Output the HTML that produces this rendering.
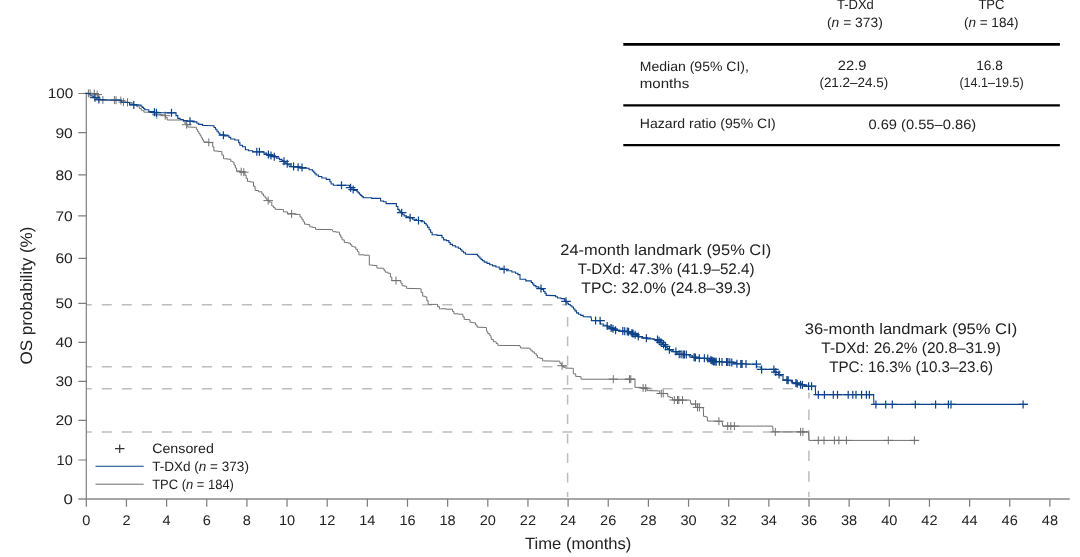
<!DOCTYPE html>
<html><head><meta charset="utf-8"><title>OS Kaplan-Meier</title>
<style>html,body{margin:0;padding:0;background:#fff;}body{width:1080px;height:557px;overflow:hidden;}svg{display:block;will-change:transform;}text{text-rendering:geometricPrecision;font-family:"Liberation Sans",sans-serif;fill:#222222;}</style>
</head><body>
<svg width="1080" height="557" viewBox="0 0 1080 557">
<rect width="1080" height="557" fill="#ffffff"/>
<defs><clipPath id="plotclip"><rect x="86.3" y="0" width="1000" height="498.9"/></clipPath></defs>
<line x1="81.75" y1="304.8" x2="567.6" y2="304.8" stroke="#bdbdbd" stroke-width="1.5" stroke-dasharray="10.0 10.03" clip-path="url(#plotclip)"/>
<line x1="81.75" y1="366.8" x2="567.6" y2="366.8" stroke="#bdbdbd" stroke-width="1.5" stroke-dasharray="10.0 10.03" clip-path="url(#plotclip)"/>
<line x1="81.75" y1="388.8" x2="794.5" y2="388.8" stroke="#bdbdbd" stroke-width="1.5" stroke-dasharray="10.0 10.03" clip-path="url(#plotclip)"/>
<line x1="81.75" y1="432.0" x2="808.9" y2="432.0" stroke="#bdbdbd" stroke-width="1.5" stroke-dasharray="10.0 10.03" clip-path="url(#plotclip)"/>
<path d="M567.6 316.9V326.6M567.6 336.4V346.1M567.6 355.8V365.5M567.6 375.3V385.0M567.6 394.8V404.5M567.6 414.2V423.9M567.6 433.7V443.4M567.6 453.2V462.9M567.6 472.7V482.4M567.6 492.1V496.9" stroke="#bdbdbd" stroke-width="1.5" fill="none"/>
<path d="M808.9 392.5V398.7" stroke="#bdbdbd" stroke-width="1.5" fill="none"/>
<path d="M808.9 409.4V419.9M808.9 430.0V440.5M808.9 450.6V461.1M808.9 471.3V481.8M808.9 491.8V496.9" stroke="#bdbdbd" stroke-width="1.5" fill="none"/>
<g stroke="#7d7d7d" stroke-width="1.2" fill="none">
<path d="M86.3 93V498.9"/>
<path d="M78.3 498.9H1069.7" stroke-width="1.45" stroke="#888"/>
<path d="M78.3 93.5H86.3M78.3 132.6H86.3M78.3 174.8H86.3M78.3 215.8H86.3M78.3 258.4H86.3M78.3 303.4H86.3M78.3 342.3H86.3M78.3 381.3H86.3M78.3 420.4H86.3M78.3 460.0H86.3"/>
<path d="M86.30 498.9V506.7M126.45 498.9V506.7M166.60 498.9V506.7M206.75 498.9V506.7M246.90 498.9V506.7M287.05 498.9V506.7M327.20 498.9V506.7M367.35 498.9V506.7M407.50 498.9V506.7M447.65 498.9V506.7M487.80 498.9V506.7M527.95 498.9V506.7M568.10 498.9V506.7M608.25 498.9V506.7M648.40 498.9V506.7M688.55 498.9V506.7M728.70 498.9V506.7M768.85 498.9V506.7M809.00 498.9V506.7M849.15 498.9V506.7M889.30 498.9V506.7M929.45 498.9V506.7M969.60 498.9V506.7M1009.75 498.9V506.7M1049.90 498.9V506.7"/>
</g>
<path d="M86.3 93.4L94.6 93.5H95.9V94.6H97.2H98.1V97.2H99.0H100.0V99.6H101.0H101.7V100.0H102.3L120.2 100.2H121.8V102.2H123.5L127.4 102.4H129.7V103.2H131.9H133.4V104.5H135.0H136.7V106.7H138.4H139.4V108.5H141.3V110.3H142.3H143.9V112.2H145.5L152.4 112.3H154.6V114.8H156.8L164.6 114.8H165.4V117.4H167.2V120.0H168.0L183.0 120.0H183.7V122.0H185.1V124.0H185.8H187.8V127.1H189.7L195.8 127.3H196.4V129.4H197.6V131.5H198.8V133.6H200.1V135.7H201.3V137.8H202.5V139.9H203.7V142.0H204.3H208.2V142.6H212.0H212.7V146.8H213.9V151.0H214.6H217.8V151.4H221.1H221.9V155.1H223.6V158.8H224.4H227.3V159.2H230.2H230.8V161.4H231.5H232.4V162.0H233.4H234.0V165.0H235.3V168.0H236.6V171.0H237.2H240.8V172.3H244.3H244.9V175.3H246.2V178.4H247.5V181.4H248.1H250.4V182.0H252.7H253.5V186.2H255.1V190.5H255.9H258.5V191.8H261.1H261.9V193.9H263.5V196.0H265.2V198.1H266.8V200.2H267.6H269.2V202.1H270.8H271.8V206.0H272.8H273.6V207.7H275.2V209.3H276.0L282.5 209.5H283.4V211.9H284.4H287.6V213.8H290.9H294.8V214.4H298.7H300.0V217.0H301.3H301.9V219.4H303.2V221.8H304.6V224.2H305.2H307.1V224.6H309.1H309.8V226.8H310.4H312.6V227.4H314.9H315.5V229.4H316.2L332.3 229.6L333.0 231.7H335.9V232.1H338.8H339.4V234.7H340.8V237.3H342.1V239.9H342.7H344.3V242.5H345.9H347.9V243.1H349.8H350.4V244.8H351.8V246.4H352.4H353.7V247.0H355.0H355.8V249.3H357.4V251.6H358.2H358.9V254.8H359.5H363.9V255.2H368.2H369.3V265.1H370.4H373.3V265.5H376.2H376.9V268.1H377.5L383.3 268.3H383.9V270.2H385.2V272.2H385.9H387.9V273.3H389.8H390.4V277.0H391.8V280.6H392.4L400.2 280.6H400.9V283.2H402.1V285.8H402.8H404.4V286.2H406.0H406.6V288.4H407.3L420.3 288.7H421.1V292.4H422.7V296.2H423.5H424.8V296.9H426.1H426.8V300.6H428.1V304.4H428.7L436.5 304.4H437.5V306.6H439.4V308.8H440.4H446.2V309.2H452.0H452.6V311.5H453.9V313.8H454.5H458.4V314.2H462.3H462.9V316.8H464.2V319.4H464.9L469.4 319.7H470.0V322.3H470.7H472.6V322.7H474.6H475.4V324.9H477.1V327.2H477.9L486.3 327.5L486.9 331.8H487.9V333.7H489.8V335.6H490.8L491.5 339.5H493.4V341.7H495.4H496.2V343.5H497.8V345.4H498.6L520.0 345.6L520.6 348.0L529.3 348.2H530.2V350.0H532.1V351.9H533.0H534.3V353.4H535.6H536.2V355.5H537.5V357.7H538.1H540.0V358.3H542.0H542.6V360.9H543.3L559.2 361.2H559.9V363.4H561.4V365.7H562.1H563.5V367.2H565.0L565.4 368.1L572.3 368.3H573.3V373.8H574.4H575.7V376.4H577.0L580.3 376.6H581.0V379.2H581.6L634.1 379.2H635.0V387.4H636.0H640.9V388.1H645.7H647.0V390.6H648.3L658.7 390.9H659.7V393.5H660.7L667.1 393.6H667.8V396.7H668.4H670.0V397.5H671.7H672.4V400.0H673.0L690.2 400.1L691.0 404.1L695.6 404.1L695.8 407.3H699.5V407.7H703.3L703.6 416.4H705.4V416.8H707.2L707.5 421.0L722.1 421.3L722.8 426.1L772.7 426.1L773.1 431.9L808.6 431.9L809.0 440.4L919.0 440.4" fill="none" stroke="#707070" stroke-width="1.0" stroke-linejoin="miter"/>
<path d="M83.6 93.4h9.6M88.4 89.4v8.0M85.3 93.4h9.6M90.1 89.4v8.0M89.5 93.5h9.6M94.3 89.5v8.0M92.4 94.6h9.6M97.2 90.6v8.0M98.1 100.0h9.6M102.9 96.0v8.0M109.6 100.1h9.6M114.4 96.1v8.0M111.2 100.2h9.6M116.0 96.2v8.0M116.0 100.6h9.6M120.8 96.6v8.0M118.6 102.1h9.6M123.4 98.1v8.0M122.7 102.4h9.6M127.5 98.4v8.0M152.0 114.8h9.6M156.8 110.8v8.0M160.4 115.7h9.6M165.2 111.7v8.0M181.9 124.7h9.6M186.7 120.7v8.0M204.0 142.4h9.6M208.8 138.4v8.0M236.4 171.7h9.6M241.2 167.7v8.0M239.0 172.2h9.6M243.8 168.2v8.0M263.4 200.6h9.6M268.2 196.6v8.0M286.8 213.9h9.6M291.6 209.9v8.0M391.2 280.6h9.6M396.0 276.6v8.0M557.3 365.7h9.6M562.1 361.7v8.0M608.5 379.2h9.6M613.3 375.2v8.0M624.7 379.2h9.6M629.5 375.2v8.0M626.0 379.2h9.6M630.8 375.2v8.0M638.3 387.9h9.6M643.1 383.9v8.0M640.9 388.1h9.6M645.7 384.1v8.0M656.5 393.5h9.6M661.3 389.5v8.0M658.4 393.5h9.6M663.2 389.5v8.0M669.5 400.0h9.6M674.3 396.0v8.0M672.7 400.0h9.6M677.5 396.0v8.0M674.0 400.0h9.6M678.8 396.0v8.0M677.7 400.1h9.6M682.5 396.1v8.0M690.8 404.1h9.6M695.6 400.1v8.0M692.7 407.4h9.6M697.5 403.4v8.0M694.6 407.5h9.6M699.4 403.5v8.0M714.1 421.2h9.6M718.9 417.2v8.0M722.9 426.1h9.6M727.7 422.1v8.0M726.0 426.1h9.6M730.8 422.1v8.0M729.6 426.1h9.6M734.4 422.1v8.0M770.5 431.9h9.6M775.3 427.9v8.0M795.8 431.9h9.6M800.6 427.9v8.0M798.1 431.9h9.6M802.9 427.9v8.0M813.5 440.4h9.6M818.3 436.4v8.0M819.2 440.4h9.6M824.0 436.4v8.0M829.6 440.4h9.6M834.4 436.4v8.0M834.1 440.4h9.6M838.9 436.4v8.0M841.6 440.4h9.6M846.4 436.4v8.0M883.5 440.4h9.6M888.3 436.4v8.0M909.6 440.4h9.6M914.4 436.4v8.0" fill="none" stroke="#707070" stroke-width="1.0"/>
<path d="M85.2 93.4L89.1 93.6H90.1V95.0H92.0V96.3H94.0V97.7H95.0H97.0V99.6H98.9L106.6 99.9L120.2 100.1H121.2V102.2H122.2L128.7 102.5H129.5V104.8H130.3L140.3 105.1H141.0V106.2H142.2V107.4H143.6V108.5H144.8V109.7H145.5H148.8V111.6H152.0H154.0V112.7H156.0L175.2 112.8H176.0V115.6H177.8V118.4H178.6H180.1V119.5H183.2V120.6H184.7H187.3V121.2H190.0H192.9V121.9H195.8H196.8V123.2H198.7V124.4H199.7H202.6V125.5H205.6L213.3 125.7H214.0V127.5H215.5V129.3H216.9V131.2H218.3V133.0H219.8V134.8H220.5H224.3V135.9H228.2H229.0V137.4H230.7V139.0H231.5H234.8V140.0H238.0H238.7V142.6H239.9V145.2H240.6H242.5V146.7H244.4H245.4V149.7H246.4H248.5V150.7H252.7V151.7H254.8L262.6 151.9H263.9V153.1H266.5V154.3H267.8H269.5V155.6H273.0V156.8H276.4V158.1H278.1H279.4V159.4H282.0V160.7H283.3H284.2V162.1H285.9V163.5H287.6V164.9H288.5H291.1V166.6H293.7H300.1V168.2H306.5H309.1V169.7H311.8H312.4V171.0H313.7V172.3H314.9V173.7H316.2V175.0H316.8H318.4V176.5H321.8V178.0H323.4H326.3V179.4H329.2H329.9V181.7H331.1V184.0H331.8H333.4V185.3H335.0L348.6 185.3H349.4V187.2H351.1V189.2H351.9H354.1V190.5H356.4H357.0V191.7H358.2V192.9H359.5V194.2H360.7V195.4H361.9V196.6H363.2V197.8H363.8H371.7V198.4H379.6H380.6V201.0H381.6H383.6V201.7H385.5H386.1V203.6H386.8L395.8 203.6H396.4V206.5H397.8V209.4H398.4H399.2V211.1H400.9V212.7H401.7H402.5V214.3H404.1V215.9H404.9H406.3V216.9H409.2V217.9H410.7H412.6V219.2H416.6V220.5H418.5H421.1V221.8H423.7H424.5V223.4H426.1V225.0H426.9H427.6V227.4H429.1V229.8H430.6V232.3H432.1V234.7H432.8H437.0V235.4H441.2H442.0V237.7H443.6V239.9H444.4H446.4V240.6H448.3H448.9V242.5H450.2V244.4H450.9H452.4V245.7H455.4V247.0H458.3V248.3H459.8H460.5V249.8H461.9V251.3H462.6H463.6V252.8H465.5V254.2H466.5L476.8 254.4H477.4V255.7H478.7V257.0H479.9V258.2H481.1V259.5H482.4V260.8H483.0H484.3V262.1H487.0V263.4H489.7V264.7H491.0H492.6V265.9H495.9V267.0H499.2V268.2H502.5V269.4H504.1H506.7V270.7H511.8V272.0H514.4H515.5V273.3H517.9V274.6H519.0H520.0V279.2H520.9H525.8V280.9H530.7H531.3V282.5H532.6V284.0H533.9V285.6H534.5H535.9V286.9H538.8V288.2H541.6V289.5H543.0H543.6V291.5H545.0V293.4H546.2V295.4H546.9L554.6 295.6H555.6V296.8H557.5V298.0H558.5H561.1V298.6H563.7H564.4V300.1H565.7V301.7H567.0V303.2H567.6H568.5V304.5H570.2V305.7H571.9V307.0H572.8H573.5V309.0H575.0V310.9H576.5V312.9H577.3H578.5V314.2H580.8V315.4H583.2V316.7H584.4L591.0 316.9L591.7 320.5L600.1 320.7L600.7 324.0H603.3V325.3H605.9H607.2V326.6H609.8V327.9H611.1H612.4V329.2H615.0V330.5H616.3H619.5V331.1H622.8H626.0V331.8H629.3H630.6V333.1H633.1V334.4H634.4H635.5V335.6H637.9V336.9H639.0H641.9V337.9H644.8H647.7V338.9H650.6H654.2V339.5H657.8H658.4V340.6H659.8V341.8H661.0V343.0H662.4V344.1H663.0H663.9V345.6H665.6V347.1H667.3V348.6H668.2H668.8V349.7H670.1V350.8H670.7H673.3V351.6H675.9H676.5V352.9H677.9V354.2H678.5H683.0V354.7H687.6H689.2V355.9H692.5V357.2H694.1H696.5V358.2H699.0L708.5 358.4H709.8V360.0H712.2V361.6H713.5H722.3V362.2H731.1H733.7V363.8H736.3H746.3V364.2H756.4L757.0 366.8L760.9 367.0L761.2 369.4L773.9 369.4L774.5 371.9H776.5V372.6H778.4H778.8V375.2H779.3H780.8V375.8H782.3H783.0V379.7H783.6H787.2V380.6H790.7H791.4V381.6H792.6V382.7H793.3L796.6 383.0H797.2V384.5H797.9H800.1V384.9H802.4L803.1 386.2L815.3 386.2L815.6 394.7L873.6 394.7L873.9 404.4L1027.6 404.4" fill="none" stroke="#0d428a" stroke-width="1.1" stroke-linejoin="miter"/>
<path d="M90.2 97.7h9.6M95.0 93.7v8.0M94.1 99.6h9.6M98.9 95.6v8.0M129.0 104.9h9.6M133.8 100.9v8.0M149.6 112.3h9.6M154.4 108.3v8.0M151.6 112.7h9.6M156.4 108.7v8.0M166.7 112.8h9.6M171.5 108.8v8.0M185.2 121.2h9.6M190.0 117.2v8.0M218.6 135.2h9.6M223.4 131.2v8.0M252.0 151.8h9.6M256.8 147.8v8.0M254.6 151.8h9.6M259.4 147.8v8.0M263.6 154.5h9.6M268.4 150.5v8.0M266.2 155.5h9.6M271.0 151.5v8.0M269.5 156.7h9.6M274.3 152.7v8.0M279.2 161.3h9.6M284.0 157.3v8.0M282.4 163.8h9.6M287.2 159.8v8.0M288.8 166.6h9.6M293.6 162.6v8.0M293.3 167.2h9.6M298.1 163.2v8.0M297.2 167.6h9.6M302.0 163.6v8.0M336.7 185.3h9.6M341.5 181.3v8.0M345.8 187.7h9.6M350.6 183.7v8.0M348.4 189.6h9.6M353.2 185.6v8.0M396.9 212.7h9.6M401.7 208.7v8.0M405.3 217.7h9.6M410.1 213.7v8.0M413.7 220.5h9.6M418.5 216.5v8.0M499.3 269.4h9.6M504.1 265.4v8.0M536.2 288.6h9.6M541.0 284.6v8.0M561.2 301.3h9.6M566.0 297.3v8.0M590.8 320.6h9.6M595.6 316.6v8.0M595.3 320.7h9.6M600.1 316.7v8.0M602.4 326.0h9.6M607.2 322.0v8.0M606.3 327.9h9.6M611.1 323.9v8.0M608.2 328.8h9.6M613.0 324.8v8.0M610.8 330.2h9.6M615.6 326.2v8.0M618.0 331.1h9.6M622.8 327.1v8.0M619.9 331.3h9.6M624.7 327.3v8.0M622.5 331.6h9.6M627.3 327.6v8.0M623.8 331.7h9.6M628.6 327.7v8.0M627.1 333.1h9.6M631.9 329.1v8.0M628.3 333.7h9.6M633.1 329.7v8.0M630.3 334.8h9.6M635.1 330.8v8.0M633.5 336.5h9.6M638.3 332.5v8.0M641.6 338.2h9.6M646.4 334.2v8.0M652.7 339.5h9.6M657.5 335.5v8.0M654.3 340.7h9.6M659.1 336.7v8.0M656.2 342.3h9.6M661.0 338.3v8.0M658.8 344.6h9.6M663.6 340.6v8.0M660.8 346.4h9.6M665.6 342.4v8.0M664.6 349.7h9.6M669.4 345.7v8.0M671.1 351.6h9.6M675.9 347.6v8.0M674.4 354.2h9.6M679.2 350.2v8.0M676.3 354.3h9.6M681.1 350.3v8.0M678.3 354.5h9.6M683.1 350.5v8.0M679.6 354.5h9.6M684.4 350.5v8.0M681.5 354.6h9.6M686.3 350.6v8.0M689.3 357.2h9.6M694.1 353.2v8.0M690.6 357.5h9.6M695.4 353.5v8.0M694.5 358.2h9.6M699.3 354.2v8.0M699.6 358.3h9.6M704.4 354.3v8.0M702.9 358.4h9.6M707.7 354.4v8.0M706.1 359.9h9.6M710.9 355.9v8.0M707.4 360.8h9.6M712.2 356.8v8.0M708.7 361.6h9.6M713.5 357.6v8.0M710.0 361.6h9.6M714.8 357.6v8.0M711.4 361.7h9.6M716.2 357.7v8.0M714.6 361.8h9.6M719.4 357.8v8.0M717.2 361.9h9.6M722.0 357.9v8.0M721.8 362.0h9.6M726.6 358.0v8.0M723.1 362.1h9.6M727.9 358.1v8.0M725.0 362.2h9.6M729.8 358.2v8.0M727.0 362.4h9.6M731.8 358.4v8.0M732.1 363.8h9.6M736.9 359.8v8.0M736.0 363.9h9.6M740.8 359.9v8.0M737.3 363.9h9.6M742.1 359.9v8.0M741.2 364.0h9.6M746.0 360.0v8.0M751.6 364.2h9.6M756.4 360.2v8.0M756.8 369.4h9.6M761.6 365.4v8.0M769.1 369.4h9.6M773.9 365.4v8.0M771.0 372.1h9.6M775.8 368.1v8.0M774.3 374.6h9.6M779.1 370.6v8.0M782.1 380.1h9.6M786.9 376.1v8.0M783.4 380.3h9.6M788.2 376.3v8.0M791.1 382.9h9.6M795.9 378.9v8.0M792.4 383.7h9.6M797.2 379.7v8.0M795.7 384.7h9.6M800.5 380.7v8.0M797.6 384.9h9.6M802.4 380.9v8.0M803.8 386.2h9.6M808.6 382.2v8.0M806.8 386.2h9.6M811.6 382.2v8.0M813.5 394.7h9.6M818.3 390.7v8.0M819.6 394.7h9.6M824.4 390.7v8.0M828.5 394.7h9.6M833.3 390.7v8.0M832.7 394.7h9.6M837.5 390.7v8.0M843.4 394.7h9.6M848.2 390.7v8.0M848.0 394.7h9.6M852.8 390.7v8.0M851.2 394.7h9.6M856.0 390.7v8.0M856.8 394.7h9.6M861.6 390.7v8.0M861.6 394.7h9.6M866.4 390.7v8.0M864.6 394.7h9.6M869.4 390.7v8.0M871.1 404.4h9.6M875.9 400.4v8.0M880.9 404.4h9.6M885.7 400.4v8.0M887.5 404.4h9.6M892.3 400.4v8.0M910.5 404.4h9.6M915.3 400.4v8.0M930.8 404.4h9.6M935.6 400.4v8.0M943.6 404.4h9.6M948.4 400.4v8.0M946.2 404.4h9.6M951.0 400.4v8.0M1018.3 404.4h9.6M1023.1 400.4v8.0" fill="none" stroke="#0d428a" stroke-width="1.2"/>
<text x="47.8" y="98.4" font-size="14" text-anchor="start" textLength="25.6" lengthAdjust="spacingAndGlyphs">100</text>
<text x="55.4" y="137.5" font-size="14" text-anchor="start" textLength="17.4" lengthAdjust="spacingAndGlyphs">90</text>
<text x="55.4" y="179.7" font-size="14" text-anchor="start" textLength="17.4" lengthAdjust="spacingAndGlyphs">80</text>
<text x="55.4" y="220.7" font-size="14" text-anchor="start" textLength="17.4" lengthAdjust="spacingAndGlyphs">70</text>
<text x="55.4" y="263.3" font-size="14" text-anchor="start" textLength="17.4" lengthAdjust="spacingAndGlyphs">60</text>
<text x="55.4" y="308.3" font-size="14" text-anchor="start" textLength="17.4" lengthAdjust="spacingAndGlyphs">50</text>
<text x="55.4" y="347.2" font-size="14" text-anchor="start" textLength="17.4" lengthAdjust="spacingAndGlyphs">40</text>
<text x="55.4" y="386.2" font-size="14" text-anchor="start" textLength="17.4" lengthAdjust="spacingAndGlyphs">30</text>
<text x="55.4" y="425.3" font-size="14" text-anchor="start" textLength="17.4" lengthAdjust="spacingAndGlyphs">20</text>
<text x="56.6" y="464.9" font-size="14" text-anchor="start" textLength="16.2" lengthAdjust="spacingAndGlyphs">10</text>
<text x="63.4" y="503.8" font-size="14" text-anchor="start" textLength="9.4" lengthAdjust="spacingAndGlyphs">0</text>
<text x="82.2" y="525.0" font-size="14" text-anchor="start" textLength="8.1" lengthAdjust="spacingAndGlyphs">0</text>
<text x="122.4" y="525.0" font-size="14" text-anchor="start" textLength="8.1" lengthAdjust="spacingAndGlyphs">2</text>
<text x="162.5" y="525.0" font-size="14" text-anchor="start" textLength="8.1" lengthAdjust="spacingAndGlyphs">4</text>
<text x="202.7" y="525.0" font-size="14" text-anchor="start" textLength="8.1" lengthAdjust="spacingAndGlyphs">6</text>
<text x="242.8" y="525.0" font-size="14" text-anchor="start" textLength="8.1" lengthAdjust="spacingAndGlyphs">8</text>
<text x="278.9" y="525.0" font-size="14" text-anchor="start" textLength="16.2" lengthAdjust="spacingAndGlyphs">10</text>
<text x="319.1" y="525.0" font-size="14" text-anchor="start" textLength="16.2" lengthAdjust="spacingAndGlyphs">12</text>
<text x="359.2" y="525.0" font-size="14" text-anchor="start" textLength="16.2" lengthAdjust="spacingAndGlyphs">14</text>
<text x="399.4" y="525.0" font-size="14" text-anchor="start" textLength="16.2" lengthAdjust="spacingAndGlyphs">16</text>
<text x="439.5" y="525.0" font-size="14" text-anchor="start" textLength="16.2" lengthAdjust="spacingAndGlyphs">18</text>
<text x="479.7" y="525.0" font-size="14" text-anchor="start" textLength="16.2" lengthAdjust="spacingAndGlyphs">20</text>
<text x="519.8" y="525.0" font-size="14" text-anchor="start" textLength="16.2" lengthAdjust="spacingAndGlyphs">22</text>
<text x="560.0" y="525.0" font-size="14" text-anchor="start" textLength="16.2" lengthAdjust="spacingAndGlyphs">24</text>
<text x="600.1" y="525.0" font-size="14" text-anchor="start" textLength="16.2" lengthAdjust="spacingAndGlyphs">26</text>
<text x="640.3" y="525.0" font-size="14" text-anchor="start" textLength="16.2" lengthAdjust="spacingAndGlyphs">28</text>
<text x="680.4" y="525.0" font-size="14" text-anchor="start" textLength="16.2" lengthAdjust="spacingAndGlyphs">30</text>
<text x="720.6" y="525.0" font-size="14" text-anchor="start" textLength="16.2" lengthAdjust="spacingAndGlyphs">32</text>
<text x="760.7" y="525.0" font-size="14" text-anchor="start" textLength="16.2" lengthAdjust="spacingAndGlyphs">34</text>
<text x="800.9" y="525.0" font-size="14" text-anchor="start" textLength="16.2" lengthAdjust="spacingAndGlyphs">36</text>
<text x="841.0" y="525.0" font-size="14" text-anchor="start" textLength="16.2" lengthAdjust="spacingAndGlyphs">38</text>
<text x="881.2" y="525.0" font-size="14" text-anchor="start" textLength="16.2" lengthAdjust="spacingAndGlyphs">40</text>
<text x="921.3" y="525.0" font-size="14" text-anchor="start" textLength="16.2" lengthAdjust="spacingAndGlyphs">42</text>
<text x="961.5" y="525.0" font-size="14" text-anchor="start" textLength="16.2" lengthAdjust="spacingAndGlyphs">44</text>
<text x="1001.6" y="525.0" font-size="14" text-anchor="start" textLength="16.2" lengthAdjust="spacingAndGlyphs">46</text>
<text x="1041.8" y="525.0" font-size="14" text-anchor="start" textLength="16.2" lengthAdjust="spacingAndGlyphs">48</text>
<text x="525.0" y="548.8" font-size="16.3" text-anchor="start" textLength="106.4" lengthAdjust="spacingAndGlyphs">Time (months)</text>
<text transform="translate(32.2,364.6) rotate(-90)" font-size="16.6" textLength="138.0" lengthAdjust="spacingAndGlyphs">OS probability (%)</text>
<text x="560.3" y="255.3" font-size="15.3" text-anchor="start" textLength="210.9" lengthAdjust="spacingAndGlyphs">24-month landmark (95% CI)</text>
<text x="577.8" y="274.0" font-size="15.3" text-anchor="start" textLength="176.8" lengthAdjust="spacingAndGlyphs">T-DXd: 47.3% (41.9–52.4)</text>
<text x="581.3" y="292.8" font-size="15.3" text-anchor="start" textLength="169.8" lengthAdjust="spacingAndGlyphs">TPC: 32.0% (24.8–39.3)</text>
<text x="804.7" y="334.3" font-size="15.3" text-anchor="start" textLength="212.5" lengthAdjust="spacingAndGlyphs">36-month landmark (95% CI)</text>
<text x="821.3" y="353.3" font-size="15.3" text-anchor="start" textLength="179.5" lengthAdjust="spacingAndGlyphs">T-DXd: 26.2% (20.8–31.9)</text>
<text x="829.2" y="372.0" font-size="15.3" text-anchor="start" textLength="164.0" lengthAdjust="spacingAndGlyphs">TPC: 16.3% (10.3–23.6)</text>
<path d="M115 448.7h9.5M119.7 444.4v8.6" stroke="#333" stroke-width="1.2" fill="none"/>
<line x1="95.5" y1="466.3" x2="143.7" y2="466.3" stroke="#0d428a" stroke-width="1.05"/>
<line x1="95.5" y1="484.2" x2="143.7" y2="484.2" stroke="#6a6a6a" stroke-width="1.0"/>
<text x="152.2" y="453.3" font-size="13.6" text-anchor="start" textLength="61.7" lengthAdjust="spacingAndGlyphs">Censored</text>
<text x="152.2" y="471.1" font-size="13.6" text-anchor="start" textLength="96.7" lengthAdjust="spacingAndGlyphs">T-DXd (<tspan font-style="italic">n</tspan> = 373)</text>
<text x="152.2" y="489.0" font-size="13.6" text-anchor="start" textLength="81.7" lengthAdjust="spacingAndGlyphs">TPC (<tspan font-style="italic">n</tspan> = 184)</text>
<g stroke="#000" fill="none">
<line x1="623.3" y1="44.4" x2="1059.9" y2="44.4" stroke-width="2.6"/>
<line x1="623.3" y1="105.3" x2="1059.9" y2="105.3" stroke-width="2.2"/>
<line x1="623.3" y1="145.1" x2="1059.9" y2="145.1" stroke-width="2.2"/>
</g>
<text x="837.0" y="9.3" font-size="13.6" text-anchor="start" textLength="36.8" lengthAdjust="spacingAndGlyphs">T-DXd</text>
<text x="827.0" y="26.9" font-size="13.6" text-anchor="start" textLength="55.8" lengthAdjust="spacingAndGlyphs">(<tspan font-style="italic">n</tspan> = 373)</text>
<text x="978.4" y="9.3" font-size="13.6" text-anchor="start" textLength="26.1" lengthAdjust="spacingAndGlyphs">TPC</text>
<text x="963.9" y="26.9" font-size="13.6" text-anchor="start" textLength="54.6" lengthAdjust="spacingAndGlyphs">(<tspan font-style="italic">n</tspan> = 184)</text>
<text x="639.8" y="71.0" font-size="13.6" text-anchor="start" textLength="109.1" lengthAdjust="spacingAndGlyphs">Median (95% CI),</text>
<text x="639.8" y="88.0" font-size="13.6" text-anchor="start" textLength="49.4" lengthAdjust="spacingAndGlyphs">months</text>
<text x="837.8" y="70.0" font-size="13.6" text-anchor="start" textLength="28.6" lengthAdjust="spacingAndGlyphs">22.9</text>
<text x="819.4" y="87.4" font-size="13.6" text-anchor="start" textLength="68.9" lengthAdjust="spacingAndGlyphs">(21.2–24.5)</text>
<text x="976.2" y="70.0" font-size="13.6" text-anchor="start" textLength="26.6" lengthAdjust="spacingAndGlyphs">16.8</text>
<text x="959.4" y="87.4" font-size="13.6" text-anchor="start" textLength="64.4" lengthAdjust="spacingAndGlyphs">(14.1–19.5)</text>
<text x="639.8" y="128.1" font-size="13.6" text-anchor="start" textLength="136.0" lengthAdjust="spacingAndGlyphs">Hazard ratio (95% CI)</text>
<text x="868.4" y="128.8" font-size="13.6" text-anchor="start" textLength="107.8" lengthAdjust="spacingAndGlyphs">0.69 (0.55–0.86)</text>
</svg></body></html>
